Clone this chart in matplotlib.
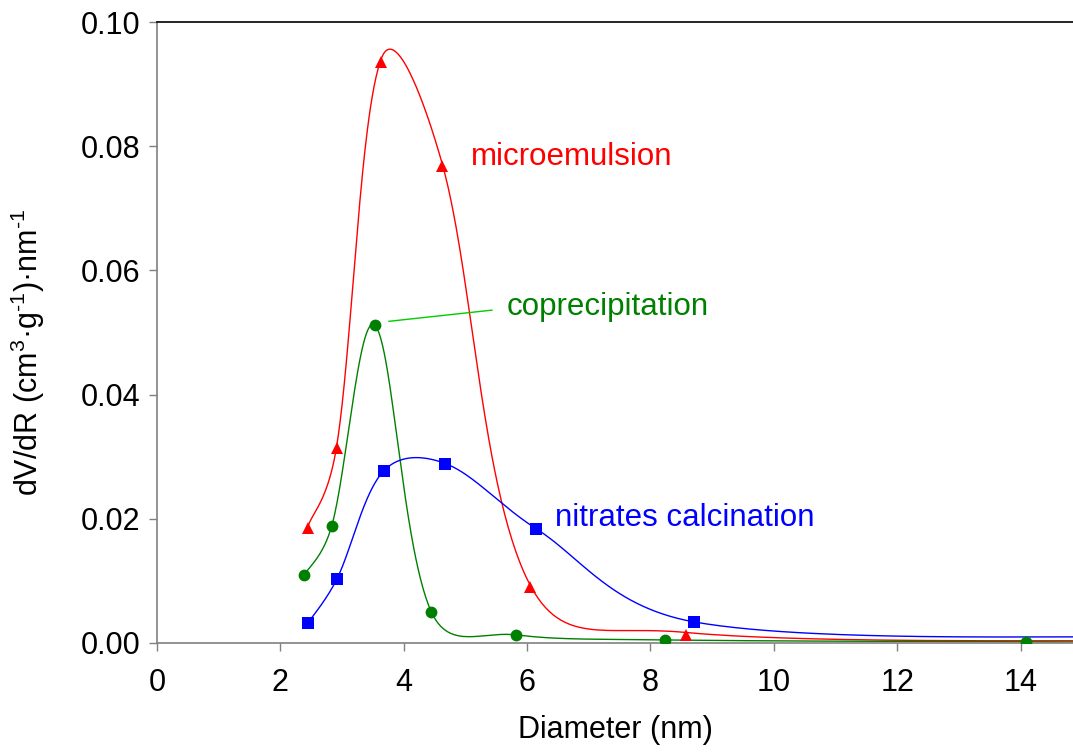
import numpy as np
import matplotlib
matplotlib.use("Agg")
import matplotlib.pyplot as plt
from matplotlib.transforms import offset_copy

plt.rcParams['font.family'] = ['Liberation Sans', 'DejaVu Sans']
plt.rcParams['mathtext.fontset'] = 'custom'
plt.rcParams['mathtext.rm'] = 'Liberation Sans'
plt.rcParams['mathtext.it'] = 'Liberation Sans:italic'

# Data (diameter in nm, dV/dR)
micro_x = [2.456, 2.916, 3.636, 4.62, 6.04, 8.57, 16.0]
micro_y = [0.0190, 0.0319, 0.0941, 0.0773, 0.0095, 0.0017, 0.0003]

copre_x = [2.391, 2.834, 3.528, 4.448, 5.826, 8.232, 14.09, 20.0]
copre_y = [0.0110, 0.0189, 0.0512, 0.0050, 0.0013, 0.0005, 0.0002, 0.0001]

nitr_x = [2.445, 2.916, 3.674, 4.675, 6.148, 8.706, 16.0]
nitr_y = [0.0032, 0.0103, 0.0277, 0.0289, 0.0184, 0.0034, 0.0009]

series_names = ["microemulsion", "coprecipitation", "nitrates calcination"]
x_ticks = [0, 2, 4, 6, 8, 10, 12, 14]
y_ticks = [0.00, 0.02, 0.04, 0.06, 0.08, 0.10]

W, H = 1073, 754
fig = plt.figure(figsize=(W / 100, H / 100), dpi=100)
ax = fig.add_axes([157 / W, 1 - 643 / H, 1 - 157 / W, (643 - 22) / H])
ax.set_xlim(0, 14.85)
ax.set_ylim(0, 0.10)


def smooth(ax, xs, ys, a=0.4, n=60):
    pts = ax.transData.transform(np.column_stack([xs, ys]))
    P = np.vstack([pts[0], pts, pts[-1]])
    out = []
    for i in range(1, len(P) - 2):
        p0, p1, p2, p3 = P[i - 1], P[i], P[i + 1], P[i + 2]
        d01 = np.linalg.norm(p1 - p0) ** a
        d12 = np.linalg.norm(p2 - p1) ** a
        d23 = np.linalg.norm(p3 - p2) ** a
        f1 = d12 / (d01 + d12) / 3.0 if d01 > 0 else 1 / 6.0
        f2 = d12 / (d12 + d23) / 3.0 if d23 > 0 else 1 / 6.0
        c1 = p1 + (p2 - p0) * f1
        c2 = p2 - (p3 - p1) * f2
        t = np.linspace(0, 1, n)[:, None]
        b = ((1 - t) ** 3) * p1 + 3 * ((1 - t) ** 2) * t * c1 + 3 * (1 - t) * t ** 2 * c2 + t ** 3 * p2
        out.append(b if i == 1 else b[1:])
    curve = np.vstack(out)
    d = ax.transData.inverted().transform(curve)
    return d[:, 0], d[:, 1]


specs = [
    (micro_x, micro_y, '#ff0000', '^', 8.2, -3),
    (copre_x, copre_y, '#008000', 'o', 8.5, 0),
    (nitr_x, nitr_y, '#0000ff', 's', 8.5, 0),
]
for xs, ys, col, mk, ms, dy in specs:
    sx, sy = smooth(ax, xs, ys)
    ax.plot(sx, sy, color=col, lw=1.0, zorder=2)
    tr = offset_copy(ax.transData, fig=fig, x=0, y=dy, units='dots')
    ax.plot(xs, ys, linestyle='none', marker=mk, color=col, markersize=ms,
            markeredgewidth=0, zorder=3, transform=tr)

fs = 22.5
ax.text(5.09, 0.0783, series_names[0], color='#ff0000', fontsize=fs, va='center', ha='left')
ax.text(5.67, 0.0541, series_names[1], color='#008000', fontsize=fs, va='center', ha='left')
ax.text(6.45, 0.0201, series_names[2], color='#0000ff', fontsize=fs, va='center', ha='left')
ax.plot([3.76, 5.43], [0.0518, 0.0536], color='#00cc00', lw=1.0, zorder=2)

ax.set_xticks(x_ticks)
ax.set_yticks(y_ticks)
ax.set_yticklabels([f"{v:.2f}" for v in y_ticks])
ax.tick_params(axis='both', direction='out', length=6, width=1, color='#808080',
               labelsize=22)
ax.tick_params(axis='x', pad=12)
ax.tick_params(axis='y', pad=6)
for s in ['left', 'bottom']:
    ax.spines[s].set_color('#808080')
    ax.spines[s].set_linewidth(1.2)
ax.spines['top'].set_color('black')
ax.spines['top'].set_linewidth(1.2)
ax.spines['right'].set_visible(False)

ax.set_xlabel('Diameter (nm)', fontsize=22, labelpad=12)
fig.text(28 / W, 1 - 352 / H, r'dV/dR (cm$^{3}$·g$^{\text{-}1}$)·nm$^{\text{-}1}$',
         fontsize=22, rotation=90, ha='center', va='center')

fig.savefig('out.png', dpi=100)
